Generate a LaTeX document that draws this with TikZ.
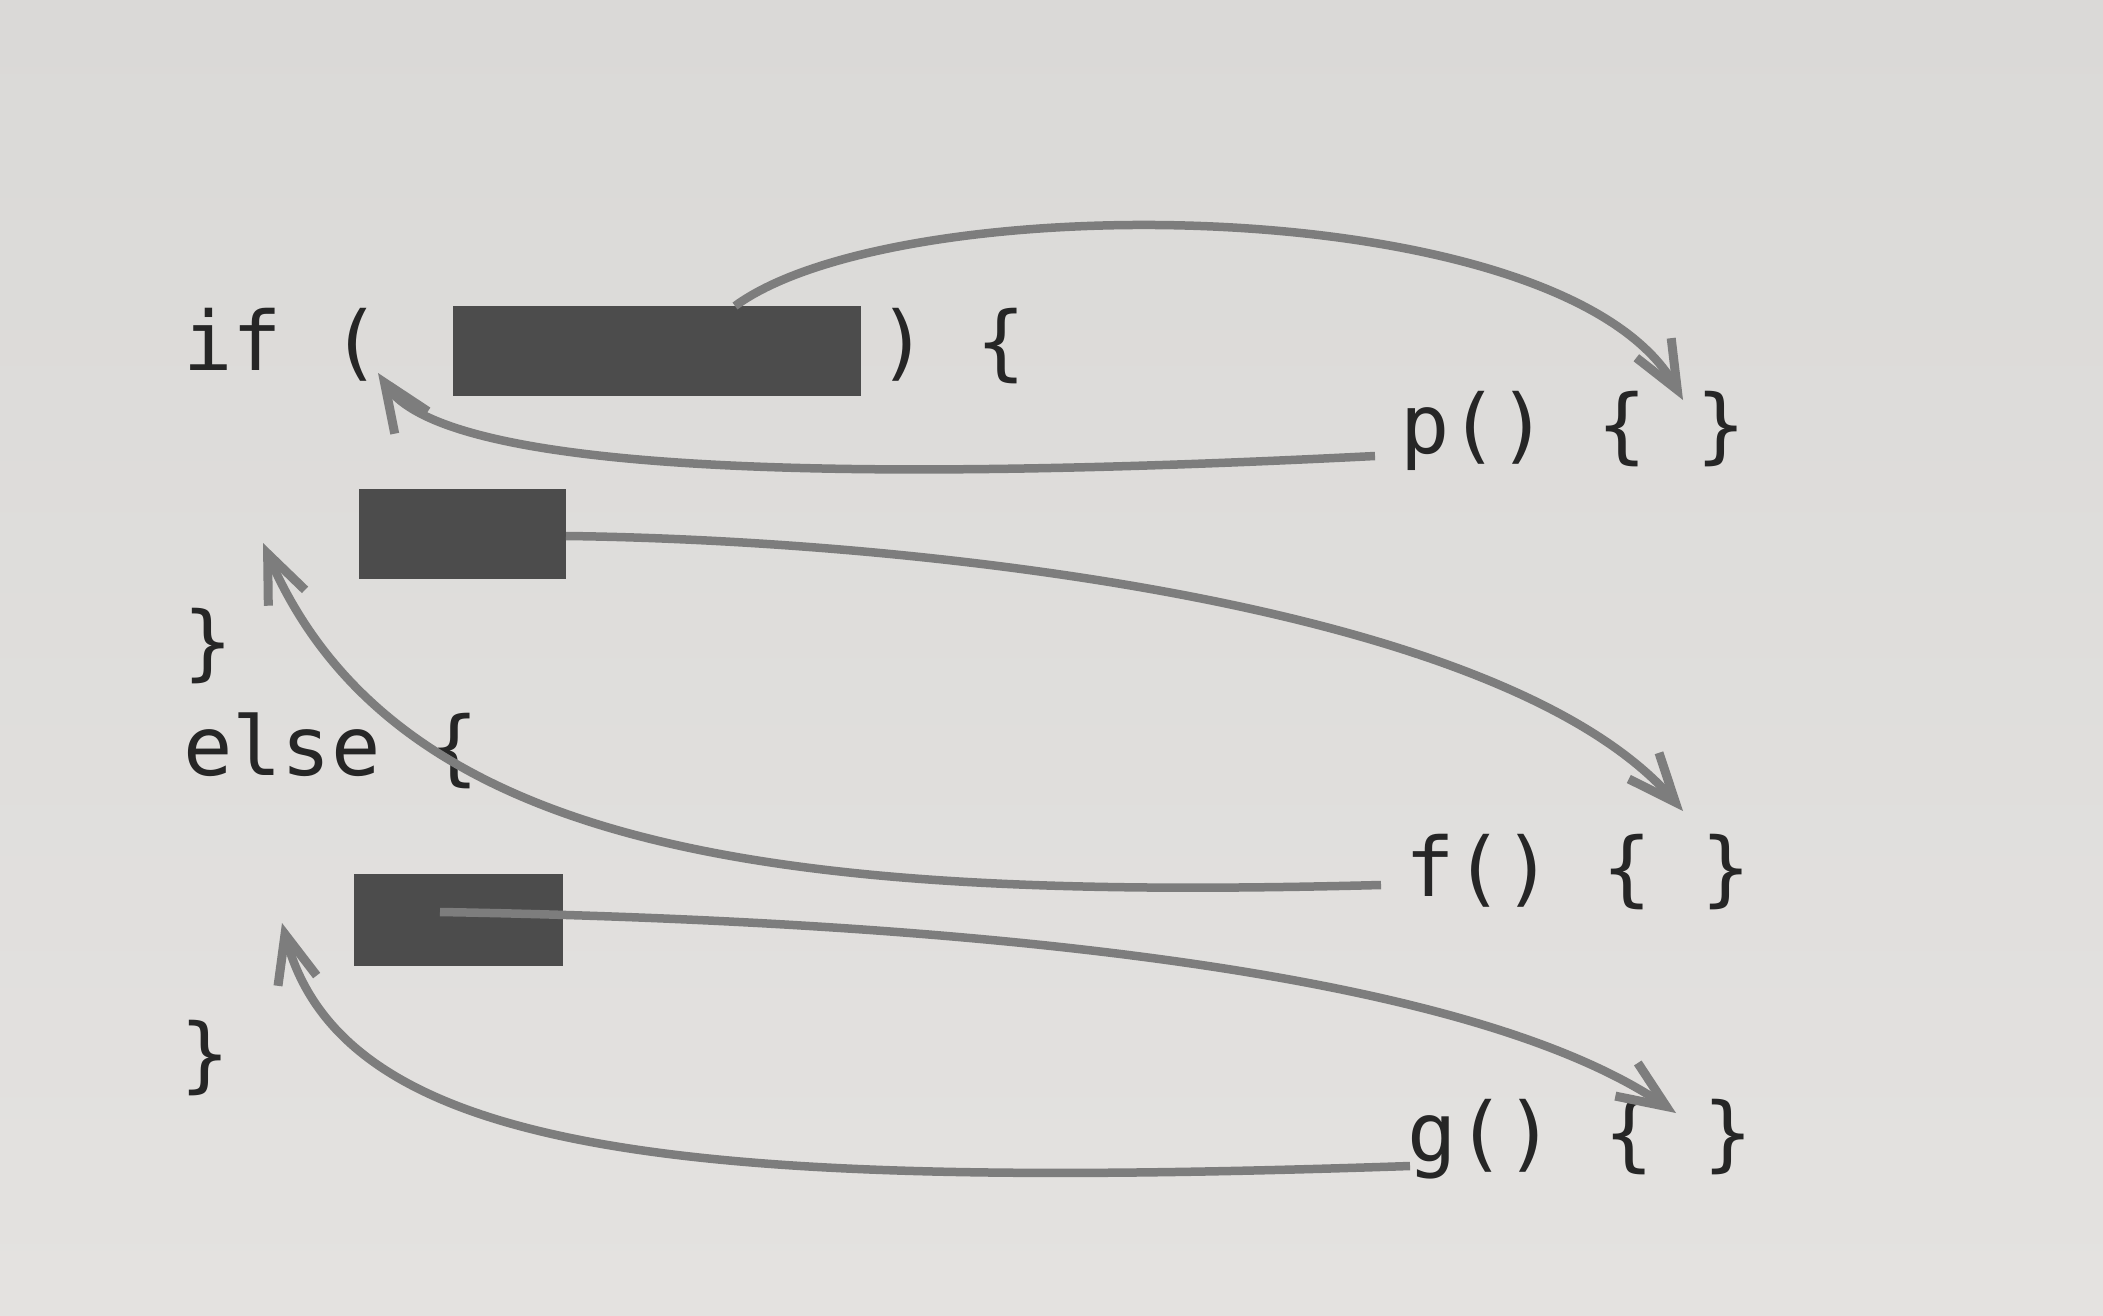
\documentclass[tikz,border=0pt]{standalone}
\usepackage{fontspec}
\newfontfamily\codefont{DejaVu Sans Mono}
\usetikzlibrary{arrows.meta}
\definecolor{paper}{HTML}{E4E2E0}
\definecolor{papertop}{HTML}{DAD9D7}
\definecolor{ink}{HTML}{262626}
\definecolor{boxgray}{HTML}{4C4C4C}
\definecolor{arrowgray}{HTML}{7D7D7D}
\tikzset{
  code/.style={anchor=base west, inner sep=0pt, outer sep=0pt, text=ink,
    font=\codefont\fontsize{82}{98}\selectfont},
  hole/.style={fill=boxgray, draw=none},
  link/.style={draw=arrowgray, line width=8.5pt,
    -{Straight Barb[length=48pt,width=40pt,line width=9pt]}},
}
\begin{document}
\begin{tikzpicture}[x=1pt,y=-1pt]
\useasboundingbox (0,0) rectangle (2103,1316);
\shade[top color=papertop, bottom color=paper] (0,0) rectangle (2103,1316);

% code text
\node[code] (ifL) at (183,370) {if (};
\node[code] (ifR) at (878,370) {) \{};
\node[code] (cb1) at (183,670) {\}};
\node[code] (els) at (183,775) {else \{};
\node[code] (cb2) at (180,1082) {\}};
\node[code] (pfun) at (1400,453) {p() \{ \}};
\node[code] (ffun) at (1405,896) {f() \{ \}};
\node[code] (gfun) at (1407,1161) {g() \{ \}};

% blanks
\path[hole] (453,306) rectangle (861,396) node[pos=.5] (box1) {};
\path[hole] (359,489) rectangle (566,579) node[pos=.5] (box2) {};
\path[hole] (354,874) rectangle (563,966) node[pos=.5] (box3) {};

% connector end points
\coordinate (s1) at (735,306);
\coordinate (t1) at (1683,400);
\coordinate (s2) at (1375,456);
\coordinate (t2) at (378,373);
\coordinate (s3) at (566,536);
\coordinate (t3) at (1683,811);
\coordinate (s4) at (1381,885);
\coordinate (t4) at (263,543);
\coordinate (s5) at (440,912);
\coordinate (t5) at (1676,1113);
\coordinate (s6) at (1410,1166);
\coordinate (t6) at (282,923);

% connectors
\draw[link] (s1) .. controls (900,185) and (1565,190) .. (t1);
\draw[link] (s2) .. controls (900,480) and (450,480) .. (t2);
\draw[link] (s3) .. controls (900,540) and (1500,600) .. (t3);
\draw[link] (s4) .. controls (800,900) and (400,860) .. (t4);
\draw[link] (s5) .. controls (900,920) and (1450,960) .. (t5);
\draw[link] (s6) .. controls (700,1190) and (345,1160) .. (t6);
\end{tikzpicture}
\end{document}
